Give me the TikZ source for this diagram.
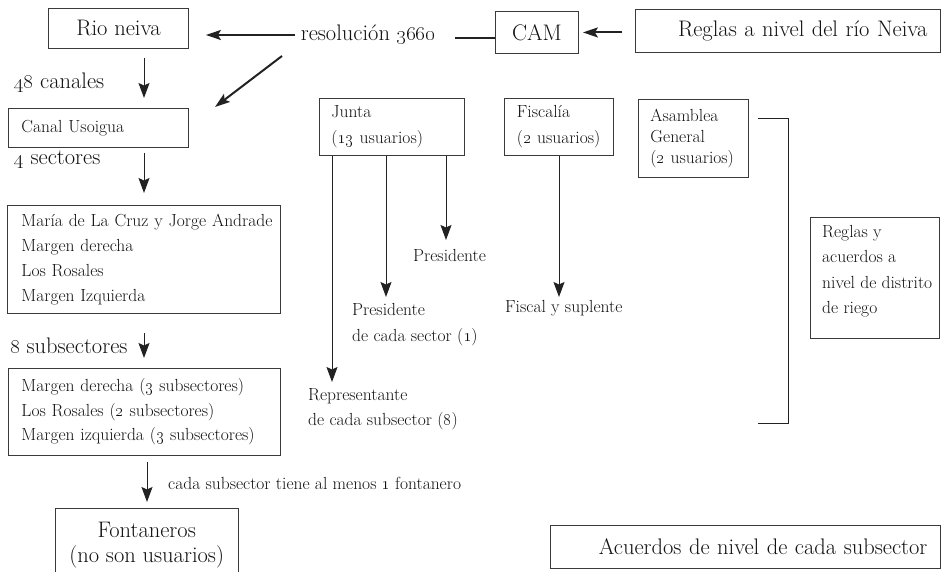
\documentclass[tikz,border=0pt]{standalone}
\usetikzlibrary{arrows.meta}
\definecolor{linec}{HTML}{222222}
\definecolor{boxc}{HTML}{3A3A3A}
\definecolor{txtc}{HTML}{111111}
\newcommand{\osn}[1]{\oldstylenums{#1}}
\tikzset{
  box/.style={draw=boxc, line width=0.9pt, inner sep=0pt, anchor=north west, text=txtc},
  sm/.style={font=\fontsize{17.5}{25}\selectfont, text=txtc},
  lg/.style={font=\fontsize{22.5}{25}\selectfont, text=txtc},
  lbl/.style={inner sep=0pt, anchor=west},
  bigarrow/.style={draw=linec, line width=2pt, -{Stealth[length=15pt,width=10pt,inset=3pt]}},
  smallarrow/.style={draw=linec, line width=1pt, -{Stealth[length=15pt,width=11pt,inset=2.5pt]}},
  plainline/.style={draw=linec, line width=1pt}
}
\begin{document}
\begin{tikzpicture}[x=1pt,y=-1pt]
\useasboundingbox (0,0) rectangle (941,572);

% top row
\node[box,lg,minimum width=140,minimum height=40] (rio) at (48,8) {Rio neiva};
\node[lg,inner sep=0pt] (res) at (368,35) {resolución \osn{3660}};
\node[box,lg,minimum width=83,minimum height=42] (cam) at (495,11) {CAM};
\node[box,lg,minimum width=305,minimum height=43,text width=279,inner xsep=13,align=right] (reglasrio) at (635,9) {Reglas a nivel del río Neiva};

\draw[bigarrow, shorten <=6pt, shorten >=17pt] (res.west) -- (rio.east |- res.west);
\draw[plainline, line width=2pt, shorten <=20pt] ([yshift=-3pt]res.east) -- ([yshift=-3pt]cam.west |- res.east);
\draw[bigarrow, shorten <=13pt, shorten >=4pt] (reglasrio.west |- cam.east) -- (cam.east);
\coordinate (d1) at (282,56);
\coordinate (d2) at (215,107);
\draw[bigarrow] (d1) -- (d2);

% left column
\node[lg,lbl] (l48) at (14,83) {\osn{48} canales};
\node[box,sm,minimum width=180,minimum height=39,text width=154,inner xsep=13,align=left] (canal) at (8,108) {Canal Usoigua};
\node[lg,lbl] (l4) at (14,160) {\osn{4} sectores};
\node[box,sm,minimum width=273,minimum height=108,text width=245,inner xsep=14,align=left] (sect) at (7,205)
  {\mbox{María de La Cruz y Jorge Andrade}\\Margen derecha\\Los Rosales\\Margen Izquierda};
\node[lg,lbl] (l8) at (10,346) {\osn{8} subsectores};
\node[box,sm,minimum width=272,minimum height=87,text width=246,inner xsep=13,align=left,font=\fontsize{17.5}{24.5}\selectfont] (subs) at (8,368)
  {\mbox{Margen derecha (\osn{3} subsectores)}\\\mbox{Los Rosales (\osn{2} subsectores)}\\\mbox{Margen izquierda (\osn{3} subsectores)}};
\node[sm,lbl] (cada) at (168,483) {cada subsector tiene al menos \osn{1} fontanero};
\node[lg,inner sep=0pt,anchor=north west,minimum width=183,minimum height=73,align=center] (font) at (55,508) {Fontaneros\\(no son usuarios)};
\draw[draw=boxc, line width=0.9pt] ([yshift=-64pt]font.north west) -- (font.north west) -- (font.north east) -- ([yshift=-64pt]font.north east);

\coordinate (a1s) at (144,58);  \coordinate (a1e) at (144,98);
\coordinate (a2s) at (144,153); \coordinate (a2e) at (144,193);
\coordinate (a3s) at (144,333); \coordinate (a3e) at (144,358);
\coordinate (a4s) at (147,462); \coordinate (a4e) at (147,502);
\draw[smallarrow] (a1s) -- (a1e);
\draw[smallarrow] (a2s) -- (a2e);
\draw[smallarrow] (a3s) -- (a3e);
\draw[smallarrow] (a4s) -- (a4e);

% Junta
\node[box,sm,minimum width=145,minimum height=57,text width=121,inner xsep=12,align=left,font=\fontsize{17.5}{26}\selectfont] (junta) at (319,98) {Junta\\\mbox{(\osn{13} usuarios)}};
\node[sm,lbl] (pres) at (413,255) {Presidente};
\node[sm,lbl,align=left,font=\fontsize{17.5}{26}\selectfont] (presc) at (352,325) {Presidente\\de cada sector (\osn{1})};
\node[sm,lbl,align=left,font=\fontsize{17.5}{25}\selectfont] (rep) at (308,409.5) {Representante\\de cada subsector (\osn{8})};
\coordinate (j1) at (332,382);
\coordinate (j2) at (386,297);
\coordinate (j3) at (446,240);
\draw[smallarrow] (junta.south -| j1) -- (j1);
\draw[smallarrow] (junta.south -| j2) -- (j2);
\draw[smallarrow] (junta.south -| j3) -- (j3);

% Fiscalia
\node[box,sm,minimum width=109,minimum height=57,text width=84,inner xsep=12.5,align=left,font=\fontsize{17.5}{26}\selectfont] (fisc) at (504,98) {Fiscalía\\\mbox{(\osn{2} usuarios)}};
\node[sm,lbl] (fiscs) at (505,308) {Fiscal y suplente};
\coordinate (f1) at (559,297);
\draw[smallarrow] (fisc.south -| f1) -- (f1);

% Asamblea
\node[box,sm,minimum width=110,minimum height=78,text width=86,inner xsep=12,align=left,font=\fontsize{17.5}{21}\selectfont] (asam) at (638,99) {Asamblea\\General\\\mbox{(\osn{2} usuarios)}};
\draw[plainline] (758,119) -- (788,119) -- (788,423) -- (758,423);

\node[box,minimum width=129,minimum height=121] (reglasd) at (810,217) {};
\node[sm,inner sep=0pt,anchor=north west,align=left,font=\fontsize{17.5}{25.5}\selectfont] (reglasdt) at ([xshift=12pt,yshift=-8pt]reglasd.north west) {Reglas y\\acuerdos a\\nivel de distrito\\de riego};

\node[box,lg,minimum width=390,minimum height=43,text width=364,inner xsep=13,align=right] (acu) at (550,525) {Acuerdos de nivel de cada subsector};
\end{tikzpicture}
\end{document}
